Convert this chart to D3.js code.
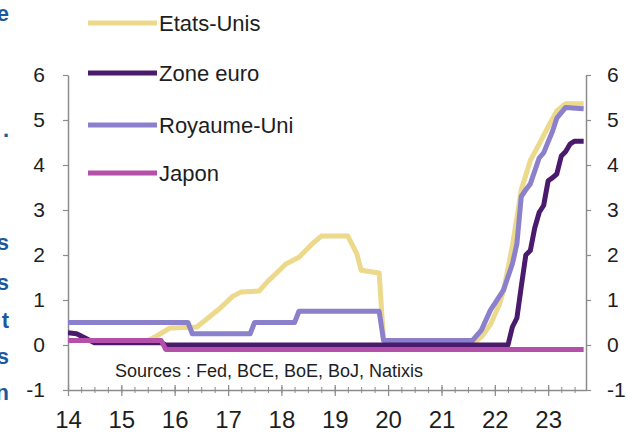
<!DOCTYPE html>
<html>
<head>
<meta charset="utf-8">
<script src="https://cdn.jsdelivr.net/npm/d3@7"></script>
<style>
    body { margin: 0; background: #fff; }
    svg { display: block; font-family: "Liberation Sans", Arial, sans-serif; }
</style>
</head>
<body>
<div id="chart"></div>
<script>
// series names and their colours (legend order)
var seriesNames = ["Etats-Unis", "Zone euro", "Royaume-Uni", "Japon"];
var seriesColors = ["#ecd98c", "#4a1a6c", "#8b80cc", "#b44faa"];

// policy rates, % (month, value)
var etatsUnis = [
    ["2014-01", 0.1], ["2015-07", 0.1], ["2015-09", 0.2], ["2015-12", 0.38], ["2016-06", 0.4],
    ["2016-11", 0.8], ["2017-02", 1.08], ["2017-04", 1.18], ["2017-08", 1.2], ["2017-10", 1.42],
    ["2018-02", 1.8], ["2018-05", 1.95], ["2018-08", 2.25], ["2018-10", 2.42], ["2019-04", 2.42],
    ["2019-06", 2.03], ["2019-07", 1.66], ["2019-11", 1.6], ["2019-12", 0.1], ["2021-09", 0.1],
    ["2021-10", 0.18], ["2021-12", 0.45], ["2022-02", 0.9], ["2022-03", 1.2], ["2022-04", 1.7],
    ["2022-05", 2.2], ["2022-06", 2.83], ["2022-07", 3.45], ["2022-09", 4.1], ["2022-11", 4.47],
    ["2023-01", 4.85], ["2023-03", 5.2], ["2023-05", 5.36], ["2023-09", 5.36]
];
var zoneEuro = [
    ["2014-01", 0.27], ["2014-03", 0.25], ["2014-05", 0.15], ["2014-07", 0.05], ["2015-10", 0.05],
    ["2015-11", 0], ["2022-04", 0], ["2022-05", 0.4], ["2022-06", 0.6], ["2022-07", 1.3],
    ["2022-08", 2.0], ["2022-09", 2.1], ["2022-10", 2.6], ["2022-11", 2.95], ["2022-12", 3.1],
    ["2023-01", 3.65], ["2023-02", 3.72], ["2023-03", 3.8], ["2023-04", 4.2], ["2023-05", 4.3],
    ["2023-06", 4.47], ["2023-07", 4.53], ["2023-09", 4.53]
];
var royaumeUni = [
    ["2014-01", 0.5], ["2016-04", 0.5], ["2016-05", 0.25], ["2017-06", 0.25], ["2017-07", 0.5],
    ["2018-04", 0.5], ["2018-05", 0.75], ["2019-11", 0.75], ["2019-12", 0.1], ["2021-08", 0.1],
    ["2021-10", 0.33], ["2021-12", 0.77], ["2022-03", 1.22], ["2022-05", 1.8], ["2022-06", 2.25],
    ["2022-07", 3.3], ["2022-08", 3.45], ["2022-09", 3.58], ["2022-11", 4.16], ["2022-12", 4.27],
    ["2023-02", 4.76], ["2023-03", 5.04], ["2023-05", 5.28], ["2023-09", 5.25]
];
var japon = [
    ["2014-01", 0.1], ["2015-10", 0.1], ["2015-11", -0.1], ["2023-09", -0.1]
];

// axis ticks
var yTicks = [-1, 0, 1, 2, 3, 4, 5, 6];
var xTickYears = [2014, 2015, 2016, 2017, 2018, 2019, 2020, 2021, 2022, 2023];
var sourceText = "Sources : Fed, BCE, BoE, BoJ, Natixis";

function chart() {
    var width = 627, height = 434;
    var left = 68, right = 586, top = 75, bottom = 390;

    var svg = d3.select("#chart").append("svg").attr("width", width).attr("height", height);

    var parse = d3.timeParse("%Y-%m");
    var x = d3.scaleTime().domain([new Date(2014, 0, 1), new Date(2023, 8, 17)]).range([left, right]);
    var y = d3.scaleLinear().domain([-1, 6]).range([bottom, top]);

    // cut-off blue text of the neighbouring column, on the left edge
    var sideChars = [["e", 21], [".", 137], ["s", 250], ["s", 290], ["t", 328], ["s", 364], ["n", 400]];
    svg.selectAll(".side").data(sideChars).enter().append("text")
        .attr("x", 9).attr("y", d => d[1]).attr("text-anchor", "end")
        .style("font-size", "22px").style("font-weight", "bold").style("fill", "#1b5a9c")
        .text(d => d[0]);

    // left and right y axes (plain hyphen for the minus sign, as in the picture)
    var axisColor = "#8c8c8c";
    var fmt = d => String(d);
    var yl = svg.append("g").attr("transform", "translate(" + left + ",0)")
        .call(d3.axisLeft(y).tickValues(yTicks).tickSize(5).tickSizeOuter(0).tickPadding(18).tickFormat(fmt));
    var yr = svg.append("g").attr("transform", "translate(" + right + ",0)")
        .call(d3.axisRight(y).tickValues(yTicks).tickSize(5).tickSizeOuter(0).tickPadding(16).tickFormat(fmt));
    [yl, yr].forEach(function(g) {
        g.select(".domain").attr("stroke", axisColor).attr("stroke-width", 1.5);
        g.selectAll(".tick line").attr("stroke", axisColor).attr("stroke-width", 1.2);
        g.selectAll("text").style("font-size", "21px").style("fill", "#1e1e1e")
            .style("font-family", "Liberation Sans, Arial, sans-serif");
    });

    // minor ticks every quarter on the x axis
    var xm = svg.append("g").attr("transform", "translate(0," + bottom + ")")
        .call(d3.axisBottom(x).ticks(d3.timeMonth.every(3)).tickSize(3).tickSizeOuter(0).tickFormat(""));
    xm.select(".domain").remove();
    xm.selectAll(".tick line").attr("y1", -3).attr("stroke", axisColor).attr("stroke-width", 1);

    // major ticks and year labels
    var xa = svg.append("g").attr("transform", "translate(0," + bottom + ")")
        .call(d3.axisBottom(x).tickValues(xTickYears.map(d => new Date(d, 0, 1)))
            .tickSize(6).tickSizeOuter(0).tickPadding(15).tickFormat(d3.timeFormat("%y")));
    xa.select(".domain").attr("stroke", axisColor).attr("stroke-width", 1.5);
    xa.selectAll(".tick line").attr("y1", -5).attr("stroke", axisColor).attr("stroke-width", 1.2);
    xa.selectAll("text").style("font-size", "24px").style("fill", "#1e1e1e")
        .style("font-family", "Liberation Sans, Arial, sans-serif");

    // source note
    svg.append("text").attr("x", 115).attr("y", 377)
        .style("font-size", "18px").style("fill", "#1e1e1e").text(sourceText);

    // clip lines to the plot area
    svg.append("clipPath").attr("id", "plot")
        .append("rect").attr("x", left).attr("y", 0).attr("width", right - left).attr("height", bottom);

    var line = d3.line().x(d => x(parse(d[0]))).y(d => y(d[1]));
    var series = [
        {data: etatsUnis, color: seriesColors[0]},
        {data: royaumeUni, color: seriesColors[2]},
        {data: zoneEuro, color: seriesColors[1]},
        {data: japon, color: seriesColors[3]}
    ];
    svg.append("g").attr("clip-path", "url(#plot)")
        .selectAll("path").data(series).enter().append("path")
        .attr("d", d => line(d.data)).attr("fill", "none")
        .attr("stroke", d => d.color).attr("stroke-width", 5)
        .attr("stroke-linejoin", "round");

    // legend
    var legendY = [23, 73, 125, 173];
    var legend = svg.selectAll(".legendItem").data(seriesNames).enter().append("g")
        .attr("transform", (d, i) => "translate(0," + legendY[i] + ")");
    legend.append("line").attr("x1", 88).attr("x2", 157).attr("y1", 0).attr("y2", 0)
        .attr("stroke", (d, i) => seriesColors[i]).attr("stroke-width", 5);
    legend.append("text").attr("x", 159).attr("y", 8)
        .style("font-size", "22px").style("fill", "#1e1e1e").text(d => d);
}

chart();
</script>
</body>
</html>
